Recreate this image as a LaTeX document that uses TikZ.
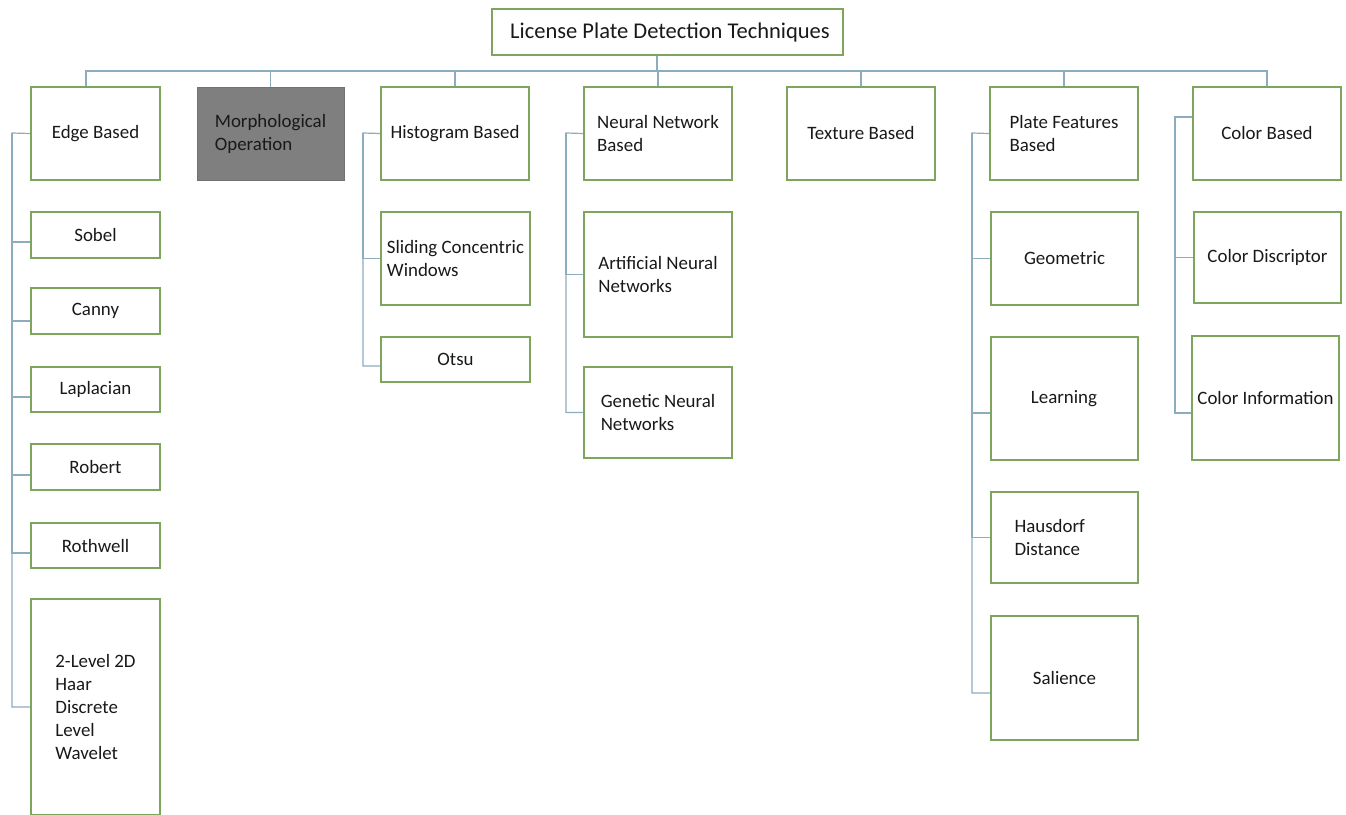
\documentclass[tikz,border=0pt]{standalone}
\usepackage{fontspec}
\setmainfont{Carlito}
\usetikzlibrary{calc}
\definecolor{boxgreen}{RGB}{125,165,92}
\definecolor{linkblue}{RGB}{140,172,192}
\definecolor{inkgray}{RGB}{25,25,25}
\definecolor{morphgray}{RGB}{127,127,127}
\tikzset{
  box/.style={draw=boxgreen, line width=2pt, fill=white, inner sep=0pt,
    text=inkgray, align=center, font=\fontsize{18.9}{23}\selectfont},
  graybox/.style={box, draw=morphgray!90!black, fill=morphgray, line width=1pt},
  link/.style={draw=linkblue, line width=1.2pt},
  toplevel/.style={box, minimum height=93pt},
}
\begin{document}
\begin{tikzpicture}[x=1pt, y=-1pt]
\clip (0,0) rectangle (1346,814);
\fill[white] (0,0) rectangle (1346,814);

% root
\node[box, minimum width=351pt, minimum height=46pt,
      font=\fontsize{22.5}{27}\selectfont] (title) at (667,32)
      {\hspace*{6pt}License Plate Detection Techniques};
\coordinate (bus) at (657,71);

% first level
\node[toplevel, minimum width=129pt] (edge)  at (95.5,133.5) {Edge Based};
\node[graybox, minimum width=147pt, minimum height=93pt, align=left] (morph) at (270.5,133.5) {Morphological\\Operation};
\node[toplevel, minimum width=148pt] (hist)  at (455,133.5)  {Histogram Based};
\node[toplevel, minimum width=148pt, align=left] (nn) at (658,133.5) {Neural Network\\Based};
\node[toplevel, minimum width=148pt] (tex)   at (861,133.5)  {Texture Based};
\node[toplevel, minimum width=148pt, align=left] (plate) at (1064,133.5) {Plate Features\\Based};
\node[toplevel, minimum width=148pt] (color) at (1267,133.5) {Color Based};

% edge based methods
\node[box, minimum width=129pt, minimum height=46pt] (sobel)    at (95.5,235)   {Sobel};
\node[box, minimum width=129pt, minimum height=46pt] (canny)    at (95.5,311)   {Canny};
\node[box, minimum width=129pt, minimum height=45pt] (lap)      at (95.5,389.5) {Laplacian};
\node[box, minimum width=129pt, minimum height=46pt] (robert)   at (95.5,467)   {Robert};
\node[box, minimum width=129pt, minimum height=45pt] (rothwell) at (95.5,545.5) {Rothwell};
\node[box, minimum width=129pt, minimum height=216pt, align=left] (haar) at (95.5,707)
     {2-Level 2D\\Haar\\Discrete\\Level\\Wavelet};

% histogram based methods
\node[box, minimum width=149pt, minimum height=93pt, align=left] (sliding) at (455.5,258.5) {Sliding Concentric\\Windows};
\node[box, minimum width=149pt, minimum height=45pt] (otsu) at (455.5,359.5) {Otsu};

% neural network methods
\node[box, minimum width=148pt, minimum height=125pt, align=left] (ann) at (658,274.5) {Artificial Neural\\Networks};
\node[box, minimum width=148pt, minimum height=91pt, align=left]  (gnn) at (658,412.5) {Genetic Neural\\Networks};

% plate feature methods
\node[box, minimum width=147pt, minimum height=93pt]  (geo)   at (1064.5,258.5) {Geometric};
\node[box, minimum width=147pt, minimum height=123pt] (learn) at (1064,398.5)   {Learning};
\node[box, minimum width=147pt, minimum height=91pt, text width=100pt, align=left] (haus) at (1064.5,537.5) {Hausdorf\\Distance};
\node[box, minimum width=147pt, minimum height=124pt] (sal)   at (1064.5,678)   {Salience};

% color methods
\node[box, minimum width=147pt, minimum height=91pt]  (cdesc) at (1267.5,257.5) {Color Discriptor};
\node[box, minimum width=147pt, minimum height=124pt] (cinfo) at (1265.5,398)   {Color Information};

% root to first level
\draw[link] (bus |- title.south) -- (bus);
\draw[link] ($(edge.north)+(-9.5,0)$) |- (bus) -| (color.north);
\draw[link] (bus) -| (morph.north);
\draw[link] (bus) -| (hist.north);
\draw[link] (bus) -| (nn.north);
\draw[link] (bus) -| (tex.north);
\draw[link] (bus) -| (plate.north);

% edge based spine
\coordinate (es) at (12,133);
\draw[link] (edge.west) -- (es) |- (haar.west);
\draw[link] (es) |- ($(sobel.west)+(0,7)$);
\draw[link] (es) |- ($(canny.west)+(0,10)$);
\draw[link] (es) |- ($(lap.west)+(0,7.5)$);
\draw[link] (es) |- ($(robert.west)+(0,8)$);
\draw[link] (es) |- ($(rothwell.west)+(0,7.5)$);

% histogram spine
\coordinate (hs) at (363,133);
\draw[link] (hist.west) -- (hs) |- ($(otsu.west)+(0,6.5)$);
\draw[link] (hs) |- (sliding.west);

% neural network spine
\coordinate (ns) at (566,133);
\draw[link] (nn.west) -- (ns) |- (gnn.west);
\draw[link] (ns) |- (ann.west);

% plate features spine
\coordinate (ps) at (972,133);
\draw[link] (plate.west) -- (ps) |- ($(sal.west)+(0,15)$);
\draw[link] (ps) |- (geo.west);
\draw[link] (ps) |- ($(learn.west)+(0,14.5)$);
\draw[link] (ps) |- (haus.west);

% color spine
\coordinate (cs) at (1175,117);
\draw[link] ($(color.west)+(0,-16.5)$) -- (cs) |- ($(cinfo.west)+(0,15)$);
\draw[link] (cs) |- (cdesc.west);
\end{tikzpicture}
\end{document}
